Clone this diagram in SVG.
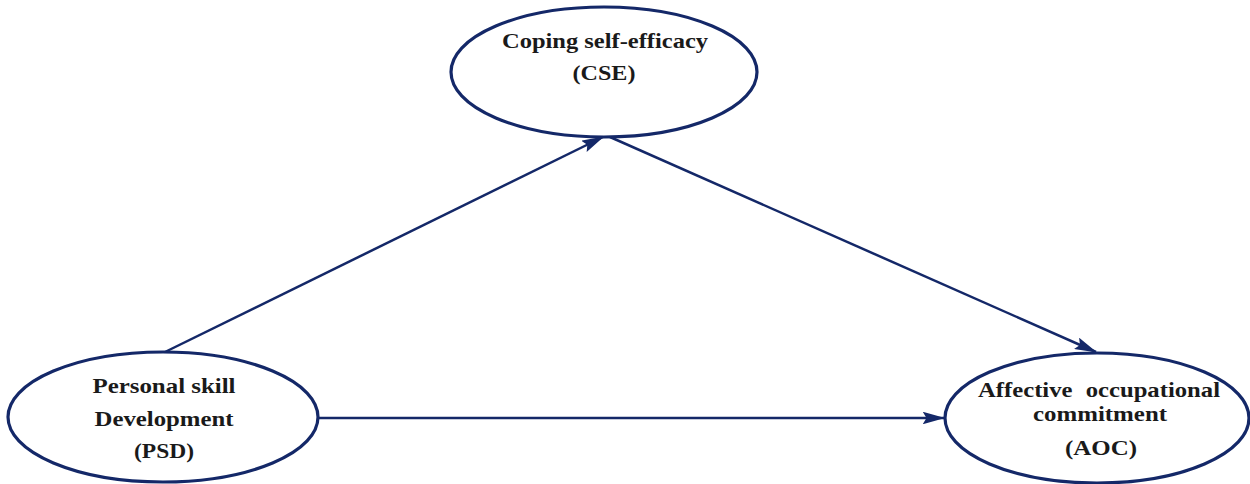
<svg xmlns="http://www.w3.org/2000/svg" width="1250" height="484" viewBox="0 0 1250 484">
<defs>
<marker id="arr" viewBox="0 0 18 10" refX="17" refY="5" markerWidth="9" markerHeight="5" orient="auto" markerUnits="strokeWidth">
<path d="M0,0 L18,5 L0,10 L3,5 z" fill="#142868"/>
</marker>
<style>
.node{fill:#fff;stroke:#142868;stroke-width:3.2}
.lbl{font-family:"Liberation Serif","Times New Roman","DejaVu Serif",serif;font-weight:bold;font-size:21px;fill:#1a1a1a;text-anchor:middle}
.edge{stroke:#142868;stroke-width:2.5;fill:none;marker-end:url(#arr)}
</style>
</defs>
<rect width="1250" height="484" fill="#fff"/>
<g id="connectors">
<line class="edge" x1="165" y1="352" x2="603" y2="137"/>
<line class="edge" x1="610" y1="137" x2="1096" y2="352"/>
<line class="edge" x1="318" y1="418" x2="944" y2="418"/>
</g>
<g id="CSE">
<ellipse class="node" cx="604" cy="72" rx="153" ry="65"/>
<text class="lbl" x="605" y="48" textLength="206" lengthAdjust="spacingAndGlyphs">Coping self-efficacy</text>
<text class="lbl" x="604" y="80" textLength="63" lengthAdjust="spacingAndGlyphs">(CSE)</text>
</g>
<g id="PSD">
<ellipse class="node" cx="163" cy="417" rx="155" ry="65"/>
<text class="lbl" x="164" y="393" textLength="143" lengthAdjust="spacingAndGlyphs">Personal skill</text>
<text class="lbl" x="164" y="426" textLength="139" lengthAdjust="spacingAndGlyphs">Development</text>
<text class="lbl" x="164" y="458" textLength="60" lengthAdjust="spacingAndGlyphs">(PSD)</text>
</g>
<g id="AOC">
<ellipse class="node" cx="1097" cy="418" rx="152" ry="65"/>
<text class="lbl" x="1099" y="397" textLength="242" lengthAdjust="spacingAndGlyphs" word-spacing="6">Affective occupational</text>
<text class="lbl" x="1100" y="421" textLength="134" lengthAdjust="spacingAndGlyphs">commitment</text>
<text class="lbl" x="1101" y="455" textLength="72" lengthAdjust="spacingAndGlyphs">(AOC)</text>
</g>
</svg>
